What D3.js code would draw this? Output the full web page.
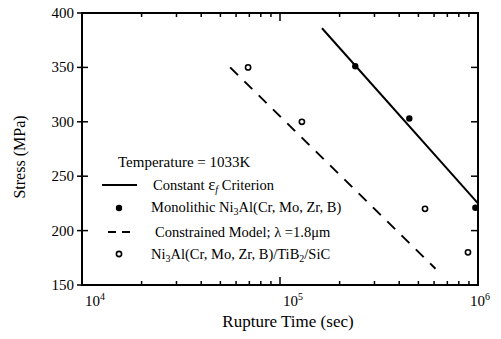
<!DOCTYPE html>
<html>
<head>
<meta charset="utf-8">
<script src="https://cdn.jsdelivr.net/npm/d3@7"></script>
<style>
  body { margin: 0; background: #fff; }
</style>
</head>
<body>
<div id="chart"></div>
<script>
// data
const monolithicTime = [2.4e5, 4.5e5, 9.7e5];
const monolithicStress = [351, 303, 221];
const compositeTime = [6.9e4, 1.29e5, 5.4e5, 8.9e5];
const compositeStress = [350, 300, 220, 180];
const criterionTime = [1.63e5, 1e6];
const criterionStress = [386, 225];
const modelTime = [5.6e4, 6.1e5];
const modelStress = [350, 165];
const stressTicks = [150, 200, 250, 300, 350, 400];
const timeTicks = [1e4, 1e5, 1e6];
const timeTickExp = ['4', '5', '6'];

const width = 501, height = 339;
const plotL = 82, plotR = 478, plotT = 13, plotB = 285;
const FONT = 'Liberation Serif';

const x = d3.scaleLog().domain([1e4, 1e6]).range([plotL, plotR]);
const y = d3.scaleLinear().domain([150, 400]).range([plotB, plotT]);

const svg = d3.select('#chart')
  .append('svg')
  .attr('width', width)
  .attr('height', height);

// minor ticks on the log axis
const minorTicks = [];
[1e4, 1e5].forEach(d => { for (let k = 2; k <= 9; k++) minorTicks.push(d * k); });

// ticks on top & bottom, pointing inward
[plotB, plotT].forEach(yy => {
  const dir = yy === plotB ? -1 : 1;
  svg.selectAll(null).data(minorTicks).enter().append('line')
    .attr('x1', d => x(d)).attr('x2', d => x(d))
    .attr('y1', yy).attr('y2', yy + dir * 4)
    .attr('stroke', '#000').attr('stroke-width', 1.5);
  svg.selectAll(null).data(timeTicks).enter().append('line')
    .attr('x1', d => x(d)).attr('x2', d => x(d))
    .attr('y1', yy).attr('y2', yy + dir * 8)
    .attr('stroke', '#000').attr('stroke-width', 1.5);
});

// ticks on left & right
svg.selectAll(null).data(stressTicks).enter().append('line')
  .attr('x1', plotL - 5).attr('x2', plotL + 6)
  .attr('y1', d => y(d)).attr('y2', d => y(d))
  .attr('stroke', '#000').attr('stroke-width', 1.5);
svg.selectAll(null).data(stressTicks).enter().append('line')
  .attr('x1', plotR - 7).attr('x2', plotR)
  .attr('y1', d => y(d)).attr('y2', d => y(d))
  .attr('stroke', '#000').attr('stroke-width', 1.5);

// frame
svg.append('rect')
  .attr('x', plotL).attr('y', plotT)
  .attr('width', plotR - plotL).attr('height', plotB - plotT)
  .attr('fill', 'none').attr('stroke', '#000').attr('stroke-width', 2);

// tick labels
svg.selectAll(null).data(stressTicks).enter().append('text')
  .attr('x', plotL - 8).attr('y', d => y(d) + 5)
  .attr('text-anchor', 'end')
  .attr('font-family', FONT)
  .attr('font-size', '15px')
  .text(d => d);

// the last label sits pulled in against the right edge, as in the original
const xl = svg.selectAll(null).data(timeTicks).enter().append('text')
  .attr('x', d => x(d) + (d === 1e6 ? 2 : 13)).attr('y', 306)
  .attr('text-anchor', 'middle')
  .attr('font-family', FONT)
  .attr('font-size', '15px');
xl.append('tspan').text('10');
xl.append('tspan').attr('dy', -6).attr('font-size', '10px').text((d, i) => timeTickExp[i]);

// axis titles
svg.append('text')
  .attr('x', (plotL + plotR) / 2 + 8).attr('y', 327)
  .attr('text-anchor', 'middle')
  .attr('font-family', FONT)
  .attr('font-size', '17px')
  .text('Rupture Time (sec)');

svg.append('text')
  .attr('transform', 'rotate(-90)')
  .attr('x', -157).attr('y', 25)
  .attr('text-anchor', 'middle')
  .attr('font-family', FONT)
  .attr('font-size', '16px')
  .text('Stress (MPa)');

// lines
const line = d3.line().x(d => x(d[0])).y(d => y(d[1]));

svg.append('path')
  .datum(d3.zip(criterionTime, criterionStress))
  .attr('d', line)
  .attr('fill', 'none').attr('stroke', '#000').attr('stroke-width', 2);

svg.append('path')
  .datum(d3.zip(modelTime, modelStress))
  .attr('d', line)
  .attr('fill', 'none').attr('stroke', '#000').attr('stroke-width', 2)
  .attr('stroke-dasharray', '11,9');

// points
svg.selectAll(null).data(d3.zip(monolithicTime, monolithicStress)).enter().append('circle')
  .attr('cx', d => x(d[0])).attr('cy', d => y(d[1]))
  .attr('r', 3.2).attr('fill', '#000');

svg.selectAll(null).data(d3.zip(compositeTime, compositeStress)).enter().append('circle')
  .attr('cx', d => x(d[0])).attr('cy', d => y(d[1]))
  .attr('r', 2.6).attr('fill', '#fff').attr('stroke', '#000').attr('stroke-width', 1.6);

// legend
const lg = svg.append('g').attr('font-family', FONT);
lg.append('text').attr('x', 118).attr('y', 167).attr('font-size', '15px')
  .text('Temperature = 1033K');

lg.append('line').attr('x1', 102).attr('x2', 137).attr('y1', 185).attr('y2', 185)
  .attr('stroke', '#000').attr('stroke-width', 2);
const t1 = lg.append('text').attr('x', 153).attr('y', 190).attr('font-size', '14.5px');
t1.append('tspan').text('Constant ');
t1.append('tspan').attr('font-size', '17px').text('ε');
t1.append('tspan').attr('dy', 3).attr('font-size', '10px').attr('font-style', 'italic').text('f');
t1.append('tspan').attr('dy', -3).text(' Criterion');

lg.append('circle').attr('cx', 119).attr('cy', 208).attr('r', 3.2).attr('fill', '#000');
const t2 = lg.append('text').attr('x', 151).attr('y', 212).attr('font-size', '14.5px');
t2.append('tspan').text('Monolithic Ni');
t2.append('tspan').attr('dy', 3).attr('font-size', '10px').text('3');
t2.append('tspan').attr('dy', -3).text('Al(Cr, Mo, Zr, B)');

lg.append('line').attr('x1', 108).attr('x2', 131).attr('y1', 232).attr('y2', 232)
  .attr('stroke', '#000').attr('stroke-width', 2).attr('stroke-dasharray', '8,6');
lg.append('text').attr('x', 155).attr('y', 237).attr('font-size', '14.5px')
  .text('Constrained Model;  λ =1.8μm');

lg.append('circle').attr('cx', 119).attr('cy', 254).attr('r', 2.6)
  .attr('fill', '#fff').attr('stroke', '#000').attr('stroke-width', 1.6);
const t4 = lg.append('text').attr('x', 151).attr('y', 259).attr('font-size', '14.5px');
t4.append('tspan').text('Ni');
t4.append('tspan').attr('dy', 3).attr('font-size', '10px').text('3');
t4.append('tspan').attr('dy', -3).text('Al(Cr, Mo, Zr, B)/TiB');
t4.append('tspan').attr('dy', 3).attr('font-size', '10px').text('2');
t4.append('tspan').attr('dy', -3).text('/SiC');
</script>
</body>
</html>
